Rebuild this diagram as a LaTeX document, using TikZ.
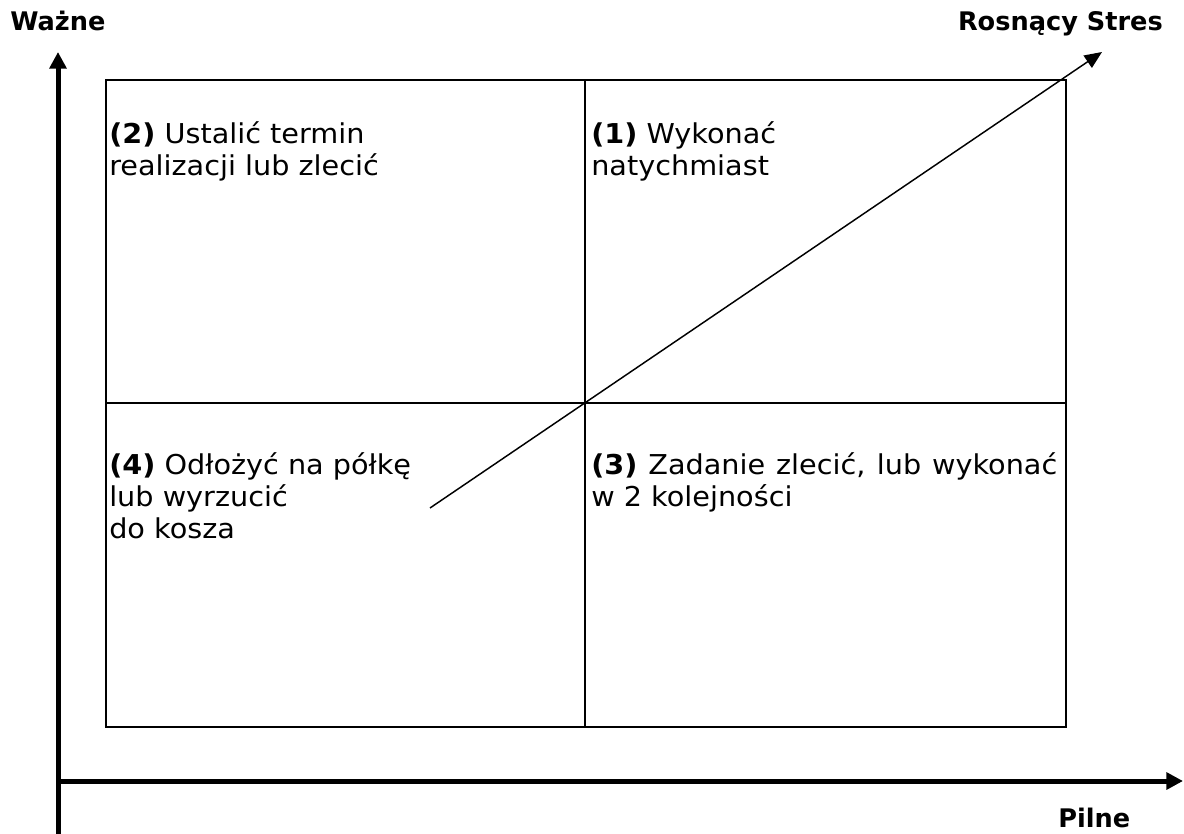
\documentclass[tikz,border=0pt]{standalone}
\usepackage{fontspec}
\setmainfont{DejaVu Sans}
\newfontfamily\qf[FakeStretch=1.05]{DejaVu Sans}
\newfontfamily\lf{DejaVu Sans}
\usetikzlibrary{arrows.meta}
\begin{document}
\begin{tikzpicture}[x=0.75pt,y=-0.75pt,
  axis/.style={line width=3.75pt,-{Triangle[length=12.5pt,width=12.5pt]}},
  gridline/.style={line width=1.5pt},
  stress/.style={line width=1.1pt,-{Triangle[length=13pt,width=11pt]}},
  qtext/.style={anchor=base west,inner sep=0pt,font=\qf\fontsize{20.5}{24}\selectfont,text width=#1,align=left},
  qjust/.style={anchor=base west,inner sep=0pt,font=\qf\fontsize{20.5}{24}\selectfont,text width=#1,align=justify},
  lab/.style={inner sep=0pt,font=\lf\bfseries\fontsize{19.2}{20}\selectfont}]
\useasboundingbox (0,0) rectangle (1184,834);
% axes
\coordinate (ybot) at (58,834);
\coordinate (ytop) at (58,52);
\coordinate (xl) at (58,781);
\coordinate (xr) at (1183,781);
\draw[axis] (ybot) -- (ytop);
\draw[axis] (xl) -- (xr);
% matrix box
\coordinate (bl) at (106,727);
\coordinate (tr) at (1066,80);
\coordinate (mt) at (585,80);
\coordinate (mb) at (585,727);
\coordinate (ml) at (106,403);
\coordinate (mr) at (1066,403);
\draw[gridline] (bl) rectangle (tr);
\draw[gridline] (mt) -- (mb);
\draw[gridline] (ml) -- (mr);
% stress arrow
\coordinate (ss) at (430,508);
\coordinate (se) at (1102,52);
\draw[stress] (ss) -- (se);
% labels
\node[lab,anchor=base west] (wazne) at (10,31) {Ważne};
\node[lab,anchor=base east] (stres) at (1163,31) {Rosnący Stres};
\node[lab,anchor=base west] (pilne) at (1058,827) {Pilne};
% quadrant texts
\node[qtext=340pt] (q2) at (109,144) {\textbf{(2)} Ustalić termin\\realizacji lub zlecić};
\node[qtext=340pt] (q1) at (591,144) {\textbf{(1)} Wykonać\\natychmiast};
\node[qtext=340pt] (q4) at (109,474) {\textbf{(4)} Odłożyć na półkę\\lub wyrzucić\\do kosza};
\node[qjust=349.5pt] (q3) at (591,474) {\textbf{(3)} Zadanie zlecić, lub wykonać\linebreak w 2 kolejności};
\end{tikzpicture}
\end{document}
